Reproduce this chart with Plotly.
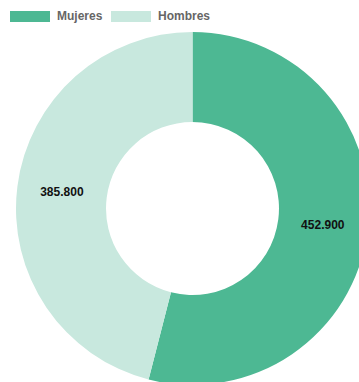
import plotly.graph_objects as go

categories = ["Mujeres", "Hombres"]
values = [452900, 385800]
colors = ["#4db893", "#c8e8de"]

W, H = 390, 420
L, T, S = 16, 32, 353  # plot area left/top and size in px


def px_x(p):
    return (p - L) / S


def px_y(p):
    return 1 - (p - T) / S


fig = go.Figure(go.Pie(
    labels=categories,
    values=values,
    marker=dict(colors=colors, line=dict(width=0)),
    hole=0.49,
    sort=False,
    direction="clockwise",
    rotation=0,
    textinfo="text",
    texttemplate="%{value:,.0f}",
    textposition="inside",
    insidetextorientation="horizontal",
    textfont=dict(family="Liberation Sans", size=12, color="#111", weight="bold"),
    hoverinfo="label+value",
    showlegend=False,
))

shapes = []
annotations = []
legend_x = [10, 111]
for i, (cat, col) in enumerate(zip(categories, colors)):
    x0 = legend_x[i]
    shapes.append(dict(type="rect", xref="paper", yref="paper",
                       x0=px_x(x0), x1=px_x(x0 + 40), y0=px_y(22), y1=px_y(11),
                       fillcolor=col, line=dict(width=0)))
    annotations.append(dict(text=cat, xref="paper", yref="paper",
                            x=px_x(x0 + 45), y=px_y(16.5), xanchor="left", yanchor="middle",
                            showarrow=False,
                            font=dict(family="Liberation Sans", size=12, color="#666", weight="bold")))

fig.update_layout(
    width=W, height=H, autosize=False,
    margin=dict(l=L, r=W - L - S, t=T, b=H - T - S, pad=0),
    paper_bgcolor="white", plot_bgcolor="white",
    separators=",.",
    shapes=shapes, annotations=annotations,
)

fig.write_html("out.html", config={"displayModeBar": False},
               post_script="document.body.style.margin='0';")
